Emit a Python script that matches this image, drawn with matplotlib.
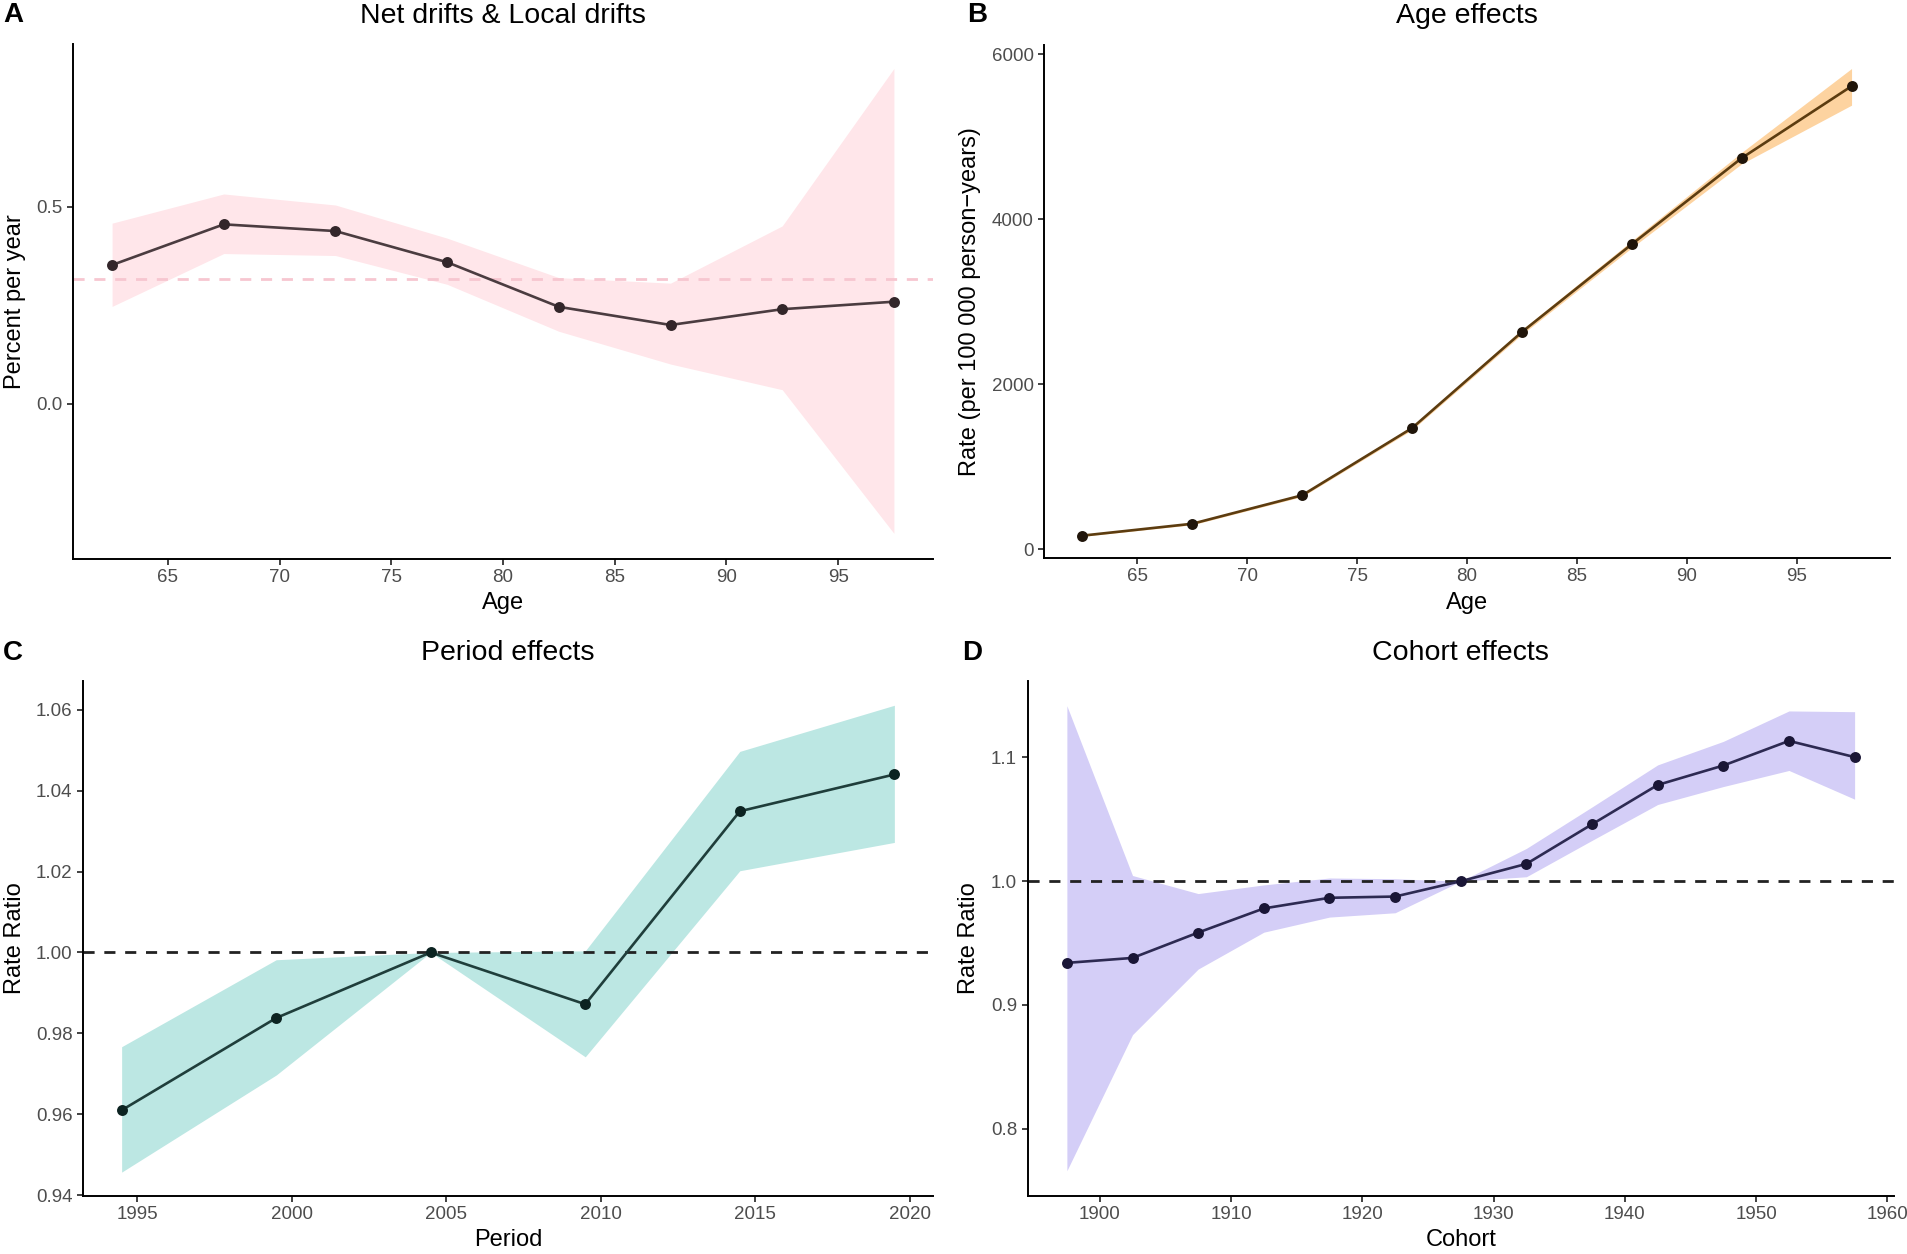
import matplotlib
matplotlib.use("Agg")
import matplotlib.pyplot as plt
import numpy as np

plt.rcParams['font.family'] = ['Liberation Sans', 'DejaVu Sans']

# ---------------- data ----------------
age = [62.5, 67.5, 72.5, 77.5, 82.5, 87.5, 92.5, 97.5]

drift = [0.352, 0.455, 0.438, 0.359, 0.246, 0.200, 0.240, 0.259]
drift_lo = [0.247, 0.381, 0.376, 0.303, 0.184, 0.101, 0.036, -0.328]
drift_hi = [0.458, 0.532, 0.504, 0.420, 0.320, 0.306, 0.451, 0.850]
net_drift = 0.316

age_rate = [167, 311, 656, 1470, 2634, 3697, 4741, 5612]
age_rate_lo = [158, 298, 640, 1448, 2605, 3655, 4672, 5382]
age_rate_hi = [176, 324, 672, 1492, 2663, 3740, 4810, 5826]

period = [1994.5, 1999.5, 2004.5, 2009.5, 2014.5, 2019.5]
period_rr = [0.9610, 0.9838, 1.0000, 0.9872, 1.0349, 1.0440]
period_lo = [0.9457, 0.9697, 1.0000, 0.9742, 1.0202, 1.0272]
period_hi = [0.9767, 0.9982, 1.0000, 1.0004, 1.0497, 1.0611]

cohort = [1897.5, 1902.5, 1907.5, 1912.5, 1917.5, 1922.5, 1927.5,
          1932.5, 1937.5, 1942.5, 1947.5, 1952.5, 1957.5]
cohort_rr = [0.934, 0.938, 0.9585, 0.978, 0.9866, 0.9876, 1.000,
             1.014, 1.046, 1.0778, 1.0935, 1.1134, 1.1003]
cohort_lo = [0.766, 0.876, 0.929, 0.9588, 0.971, 0.9745, 1.000,
             1.0036, 1.033, 1.062, 1.0765, 1.0895, 1.0663]
cohort_hi = [1.1418, 1.0046, 0.990, 0.997, 1.0026, 1.002, 1.000,
             1.0265, 1.060, 1.094, 1.113, 1.1376, 1.137]

W, H = 1907, 1254
fig = plt.figure(figsize=(W / 100, H / 100), dpi=100)

LW = 1.9
MS = 62


def add_axes(l, t, r, b):
    return fig.add_axes([l / W, 1 - b / H, (r - l) / W, (b - t) / H])


def style(ax):
    for s in ['top', 'right']:
        ax.spines[s].set_visible(False)
    for s in ['left', 'bottom']:
        ax.spines[s].set_linewidth(1.4)
        ax.spines[s].set_color('black')
    ax.tick_params(axis='both', length=4.5, width=1.3, color='#333333',
                   labelcolor='#4D4D4D', labelsize=13.5, pad=3)


def place(ax, title, xlabel, ylabel, title_y, xlabel_y, ylabel_x, letter_xy):
    bb = ax.get_position()
    ax_l, ax_b, ax_w, ax_h = bb.x0, bb.y0, bb.width, bb.height
    ty = ((1 - title_y / H) - ax_b) / ax_h
    ax.set_title(title, fontsize=20.5, y=ty, va='center', pad=0)
    ax.set_xlabel(xlabel, fontsize=17, va='center')
    ax.xaxis.set_label_coords(0.5, ((1 - xlabel_y / H) - ax_b) / ax_h)
    ax.set_ylabel(ylabel, fontsize=17, va='center')
    ax.yaxis.set_label_coords((ylabel_x / W - ax_l) / ax_w, 0.5)
    fig.text(letter_xy[1][0] / W, 1 - letter_xy[1][1] / H, letter_xy[0],
             fontsize=20, fontweight='bold', ha='center', va='center')


# ---------------- Panel A ----------------
axA = add_axes(73, 44, 933, 559)
axA.fill_between(age, drift_lo, drift_hi, color='#FFE6EA', lw=0, zorder=1)
axA.axhline(net_drift, color='#F7C6D0', lw=2.0, ls=(0, (4, 3.5)), zorder=2)
axA.plot(age, drift, color='#4b3c40', lw=LW, zorder=3)
axA.scatter(age, drift, s=MS, color='#33262a', zorder=4, lw=0)
axA.set_xlim(60.75, 99.25)
axA.set_ylim(-0.393, 0.912)
axA.set_xticks([65, 70, 75, 80, 85, 90, 95])
axA.set_yticks([0.0, 0.5])
axA.set_yticklabels(['0.0', '0.5'])
style(axA)
place(axA, 'Net drifts & Local drifts', 'Age', 'Percent per year',
      16, 603, 15, ('A', (13, 15)))

# ---------------- Panel B ----------------
axB = add_axes(1044, 45, 1890, 558)
axB.fill_between(age, age_rate_lo, age_rate_hi, color='#FDD3A0', lw=0, zorder=1)
axB.plot(age, age_rate, color='#5c3c10', lw=LW, zorder=3)
axB.scatter(age, age_rate, s=MS, color='#20150a', zorder=4, lw=0)
axB.set_xlim(60.75, 99.25)
axB.set_ylim(-104, 6111)
axB.set_xticks([65, 70, 75, 80, 85, 90, 95])
axB.set_yticks([0, 2000, 4000, 6000])
style(axB)
place(axB, 'Age effects', 'Age', 'Rate (per 100 000 person\u2212years)',
      16, 603, 970, ('B', (977, 15)))

# ---------------- Panel C ----------------
axC = add_axes(83, 681, 933, 1196)
axC.fill_between(period, period_lo, period_hi, color='#BCE7E3', lw=0, zorder=1)
axC.axhline(1.0, color='#222222', lw=2.0, ls=(0, (4, 3.5)), zorder=2)
axC.plot(period, period_rr, color='#1f3e3b', lw=LW, zorder=3)
axC.scatter(period, period_rr, s=MS, color='#0c2321', zorder=4, lw=0)
axC.set_xlim(1993.25, 2020.75)
axC.set_ylim(0.9398, 1.0671)
axC.set_xticks([1995, 2000, 2005, 2010, 2015, 2020])
axC.set_yticks([0.94, 0.96, 0.98, 1.00, 1.02, 1.04, 1.06])
axC.set_yticklabels(['0.94', '0.96', '0.98', '1.00', '1.02', '1.04', '1.06'])
style(axC)
place(axC, 'Period effects', 'Period', 'Rate Ratio',
      653, 1240, 15, ('C', (13, 653)))

# ---------------- Panel D ----------------
axD = add_axes(1027.5, 681, 1894, 1196)
axD.fill_between(cohort, cohort_lo, cohort_hi, color='#D4CEF7', lw=0, zorder=1)
axD.axhline(1.0, color='#222222', lw=2.0, ls=(0, (4, 3.5)), zorder=2)
axD.plot(cohort, cohort_rr, color='#2d2a52', lw=LW, zorder=3)
axD.scatter(cohort, cohort_rr, s=MS, color='#1a1636', zorder=4, lw=0)
axD.set_xlim(1894.5, 1960.5)
axD.set_ylim(0.7456, 1.1618)
axD.set_xticks([1900, 1910, 1920, 1930, 1940, 1950, 1960])
axD.set_yticks([0.8, 0.9, 1.0, 1.1])
axD.set_yticklabels(['0.8', '0.9', '1.0', '1.1'])
style(axD)
place(axD, 'Cohort effects', 'Cohort', 'Rate Ratio',
      653, 1240, 969, ('D', (972, 653)))

fig.savefig('out.png', dpi=100)
